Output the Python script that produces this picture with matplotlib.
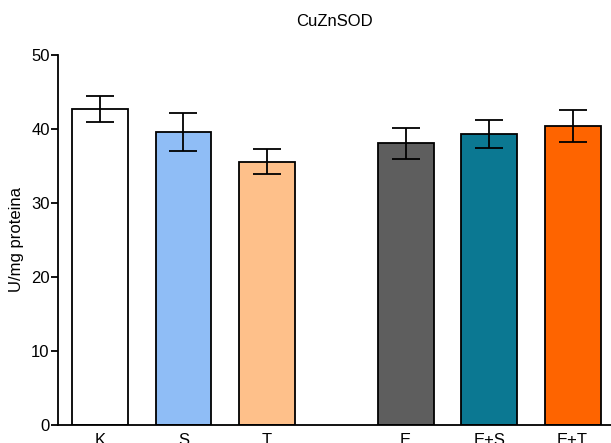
import numpy as np
import matplotlib
matplotlib.use('Agg')
import matplotlib.pyplot as plt

plt.rcParams['font.family'] = ['Liberation Sans', 'DejaVu Sans']

# dane
grupy = ['K', 'S', 'T', 'E', 'E+S', 'E+T']
pozycje = [0, 1, 2, 3.66, 4.66, 5.66]
srednie = [42.7, 39.6, 35.6, 38.1, 39.3, 40.4]
bledy = [1.8, 2.6, 1.7, 2.1, 1.9, 2.2]
kolory = ['#ffffff', '#8fbdf6', '#fec08a', '#5e5e5e', '#0b7892', '#fe6400']

fig = plt.figure(figsize=(6.11, 4.43), dpi=100)
ax = fig.add_axes([58/611, 18/443, 1 - 58/611, 370/443])

ax.bar(pozycje, srednie, width=0.67, color=kolory, edgecolor='black', linewidth=1.3, zorder=2)
ax.errorbar(pozycje, srednie, yerr=bledy, fmt='none', ecolor='black',
            elinewidth=1.3, capsize=10, capthick=1.3, zorder=3)

ax.set_xlim(-0.503, 6.12)
ax.set_ylim(0, 50)
ax.set_yticks([0, 10, 20, 30, 40, 50])
ax.set_xticks(pozycje)
ax.set_xticklabels(grupy)
ax.tick_params(axis='x', length=0, pad=6, labelsize=12)
ax.tick_params(axis='y', length=5, width=1.3, pad=1, labelsize=12)
for s in ['top', 'right']:
    ax.spines[s].set_visible(False)
ax.spines['left'].set_linewidth(1.3)
ax.spines['bottom'].set_linewidth(1.3)

ax.set_ylabel('U/mg proteina', fontsize=12, labelpad=5)
ax.set_title('CuZnSOD', fontsize=12, pad=21)

fig.savefig('out.png', dpi=100)
